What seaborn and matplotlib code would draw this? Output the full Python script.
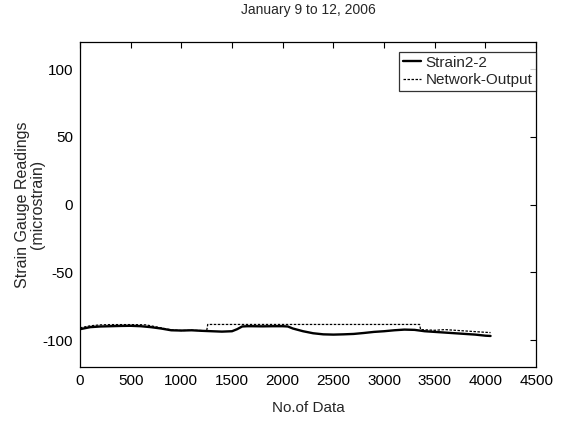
import numpy as np
import pandas as pd
import matplotlib
matplotlib.use("Agg")
import matplotlib.pyplot as plt
import seaborn as sns

# valeurs
strain_x = [0, 100, 200, 300, 400, 500, 600, 700, 800, 900, 1000, 1100, 1200, 1300,
            1400, 1500, 1550, 1600, 1650, 1700, 1800, 1900, 2000, 2050, 2100, 2200,
            2300, 2400, 2500, 2600, 2700, 2800, 2900, 3000, 3100, 3200, 3300, 3400,
            3500, 3600, 3700, 3800, 3900, 4000, 4050]
strain_y = [-92, -90.5, -90, -89.8, -89.6, -89.5, -89.8, -90.5, -91.5, -92.8, -93,
            -92.8, -93.2, -93.5, -93.8, -93.5, -92, -90, -89.8, -89.8, -89.9, -89.8,
            -89.8, -90, -91.5, -93.5, -95, -95.8, -96, -95.8, -95.5, -94.8, -94,
            -93.5, -92.8, -92.3, -92.5, -93.5, -94, -94.5, -95, -95.5, -96, -96.8, -97]

network_x = [0, 100, 200, 300, 400, 500, 600, 650, 700, 800, 900, 1000, 1100, 1200,
             1250, 1260, 1500, 2000, 2500, 3000, 3350, 3360, 3500, 3600, 3700, 3800,
             3900, 4000, 4050]
network_y = [-91, -89.5, -88.8, -88.6, -88.6, -88.6, -88.7, -88.8, -89.5, -91, -92.5,
             -93, -92.8, -93, -93.2, -88.5, -88.5, -88.5, -88.5, -88.5, -88.5, -92.3,
             -92.8, -92.3, -92.8, -93.3, -93.8, -94.3, -94.5]

series_names = ["Strain2-2", "Network-Output"]
title = "January 9 to 12, 2006"

sns.set_style("white")
plt.rcParams["font.family"] = ["Liberation Sans", "DejaVu Sans"]
plt.rcParams["axes.unicode_minus"] = False

fig = plt.figure(figsize=(5.66, 4.21), dpi=100)
ax = fig.add_axes([0.1413, 0.128, 0.806, 0.772])

df_s = pd.DataFrame({"x": strain_x, "y": strain_y})
df_n = pd.DataFrame({"x": network_x, "y": network_y})

sns.lineplot(data=df_s, x="x", y="y", ax=ax, color="black", linewidth=1.7,
             label=series_names[0])
sns.lineplot(data=df_n, x="x", y="y", ax=ax, color="black", linewidth=0.9,
             linestyle=(0, (2, 1.2)), label=series_names[1])

ax.set_xlim(0, 4500)
ax.set_ylim(-120, 120)
ax.set_xticks(np.arange(0, 4501, 500))
ax.set_yticks([-100, -50, 0, 50, 100])

for s in ax.spines.values():
    s.set_color("black")
    s.set_linewidth(0.9)
ax.tick_params(direction="in", length=4, top=True, right=True, labelsize=11,
               colors="black", pad=5)

ax.set_title(title, fontsize=10, pad=20)
ax.set_xlabel("No.of Data", fontsize=11, labelpad=9)
ax.set_ylabel("Strain Gauge Readings\n(microstrain)", fontsize=11.5,
              linespacing=1.0)
ax.yaxis.set_label_coords(-0.077, 0.5)

leg = ax.legend(loc="upper right", bbox_to_anchor=(1.0, 0.97), fontsize=11,
                frameon=True, fancybox=False, handlelength=1.2, handletextpad=0.3,
                borderpad=0.25, labelspacing=0.25, borderaxespad=0)
leg.get_frame().set_edgecolor("black")
leg.get_frame().set_linewidth(0.9)

fig.savefig("out.png", dpi=100)
